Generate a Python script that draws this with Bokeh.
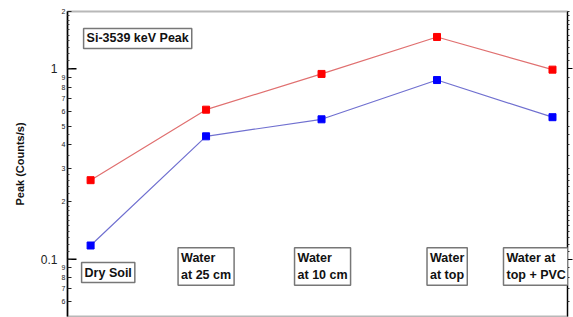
from bokeh.plotting import figure
from bokeh.models import (Range1d, LogAxis, FixedTicker, Label,
                          CustomJSTickFormatter)
from bokeh.embed import file_html
from bokeh.resources import INLINE

# ---- data ----
categories = ["Dry Soil", "Water\nat 25 cm", "Water\nat 10 cm", "Water\nat top", "Water at\ntop + PVC"]
red_values = [0.26, 0.61, 0.94, 1.47, 0.99]
blue_values = [0.118, 0.442, 0.543, 0.873, 0.557]
major_ticks = [0.1, 1]
major_tick_labels = ["0.1", "1"]
minor_labeled_ticks = [0.06, 0.07, 0.08, 0.09, 0.2, 0.3, 0.4, 0.5, 0.6, 0.7, 0.8, 0.9, 2]
minor_tick_labels = ["6", "7", "8", "9", "2", "3", "4", "5", "6", "7", "8", "9", "2"]
extra_minor_ticks = [0.11, 0.12, 0.13, 0.14, 0.15, 0.16, 0.17, 0.18, 0.19,
                     0.22, 0.24, 0.26, 0.28, 0.35, 0.45,
                     1.1, 1.2, 1.3, 1.4, 1.5, 1.6, 1.7, 1.8, 1.9]
title_text = "Si-3539 keV Peak"
y_label = "Peak (Counts/s)"

# ---- layout ----
X0, X1 = -0.2, 4.13
Y0, Y1 = 0.05, 2
box_dx = [-9, -28, -27, -10, -49]
box_top = [0.096, 0.115, 0.115, 0.115, 0.115]

xs = list(range(len(categories)))

p = figure(width=573, height=317, y_axis_type="log",
           x_range=Range1d(X0, X1), y_range=Range1d(Y0, Y1),
           output_backend="svg", toolbar_location=None, x_axis_location=None,
           min_border_left=67, min_border_right=6, min_border_top=11, min_border_bottom=1)
p.grid.visible = False
p.background_fill_color = "white"
p.border_fill_color = "white"
p.outline_line_color = "#b8b8b8"
p.outline_line_width = 2

# inner axis: tick marks + small minor-decade labels
small_fmt = CustomJSTickFormatter(args=dict(mt=minor_labeled_ticks, ml=minor_tick_labels), code="""
const i = mt.findIndex(t => Math.abs(t - tick) < 1e-9);
return i >= 0 ? ml[i] : '';
""")
ya = p.yaxis[0]
ya.ticker = FixedTicker(ticks=major_ticks + minor_labeled_ticks, minor_ticks=extra_minor_ticks)
ya.formatter = small_fmt
ya.axis_line_color = "black"
ya.axis_line_width = 1.5
ya.major_tick_in = 4
ya.major_tick_out = 0
ya.minor_tick_in = 2
ya.minor_tick_out = 0
ya.major_tick_line_color = "#222222"
ya.minor_tick_line_color = "#444444"
ya.major_label_standoff = 2
ya.major_label_text_font = "Liberation Sans"
ya.major_label_text_font_size = "7px"
ya.major_label_text_color = "#222222"

# outer axis: decade labels and axis title
big_fmt = CustomJSTickFormatter(args=dict(mt=major_ticks, ml=major_tick_labels), code="""
const i = mt.findIndex(t => Math.abs(t - tick) < 1e-9);
return i >= 0 ? ml[i] : '';
""")
yb = LogAxis(ticker=FixedTicker(ticks=major_ticks, minor_ticks=[]), formatter=big_fmt,
             axis_line_color=None, major_tick_in=0, major_tick_out=0,
             minor_tick_in=0, minor_tick_out=0, major_label_standoff=1,
             major_label_text_font="Liberation Sans", major_label_text_font_size="12px",
             major_label_text_color="#222222",
             axis_label=y_label, axis_label_text_font="Liberation Sans",
             axis_label_text_font_style="bold", axis_label_text_font_size="11px",
             axis_label_standoff=12, axis_label_text_color="#111111")
p.add_layout(yb, "left")

# longer decade ticks pointing into the plot
p.ray(x=[X0] * len(major_ticks), y=major_ticks, length=9, length_units="screen",
      angle=0, line_color="black", line_width=1.5)

ra = LogAxis(ticker=FixedTicker(ticks=major_ticks, minor_ticks=minor_labeled_ticks + extra_minor_ticks),
             formatter=CustomJSTickFormatter(code="return '';"),
             major_tick_in=0, major_tick_out=5, minor_tick_in=0, minor_tick_out=2,
             major_label_standoff=0, major_label_text_font_size="1px",
             major_label_text_alpha=0,
             axis_line_color="black", axis_line_width=1.2,
             major_tick_line_color="black", minor_tick_line_color="#333333")
p.add_layout(ra, "right")

# series
p.line(xs, red_values, line_color="#e07070", line_width=1.2)
p.scatter(xs, red_values, marker="square", size=7, fill_color="#ff0000", line_color="#ff0000")
p.line(xs, blue_values, line_color="#7070d0", line_width=1.2)
p.scatter(xs, blue_values, marker="square", size=7, fill_color="#0000ff", line_color="#0000ff")

box_style = dict(text_align="left", text_baseline="top", text_font="Liberation Sans",
                 text_font_style="bold", text_font_size="12.5px", text_color="#111111",
                 border_line_color="#777777", border_line_width=1.5,
                 background_fill_color="white", padding=3, text_line_height=1.25)

p.add_layout(Label(x=0, y=1.63, x_offset=-7, text=title_text, **box_style))
for i, cat in enumerate(categories):
    p.add_layout(Label(x=xs[i], y=box_top[i], x_offset=box_dx[i], text=cat, **box_style))

open("out.html", "w").write(file_html(p, INLINE))
